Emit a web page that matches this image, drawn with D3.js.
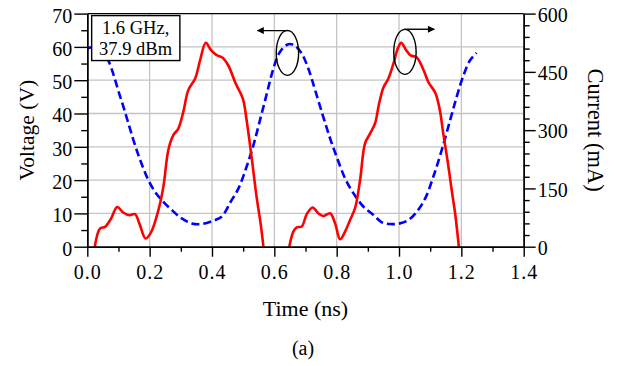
<!DOCTYPE html>
<html>
<head>
<meta charset="utf-8">
<script src="https://cdn.jsdelivr.net/npm/d3@7"></script>
<style>
  body { margin: 0; background: #fff; }
  svg, svg text { font-family: "Liberation Serif", "Times New Roman", serif; }
  svg { display: block; }
</style>
</head>
<body>
<div id="chart"></div>
<script>
// time axis (ns)
const timeTicks = [0, 0.2, 0.4, 0.6, 0.8, 1.0, 1.2, 1.4];
const voltTicks = [0, 10, 20, 30, 40, 50, 60, 70];
const currTicks = [0, 150, 300, 450, 600];

// dashed blue: drain voltage (V)
const voltTime = [0, 0.025, 0.05, 0.067, 0.083, 0.099, 0.116, 0.132, 0.148, 0.164, 0.180, 0.196,
  0.217, 0.239, 0.271, 0.303, 0.335, 0.367, 0.404, 0.431, 0.46, 0.485, 0.511, 0.533, 0.554,
  0.576, 0.597, 0.618, 0.645, 0.666, 0.688, 0.709, 0.731, 0.757, 0.779, 0.800, 0.827, 0.854,
  0.886, 0.918, 0.944, 0.971, 1.003, 1.030, 1.057, 1.084, 1.110, 1.137, 1.164, 1.185, 1.207,
  1.228, 1.249];
const voltValues = [59.5, 60, 58.5, 56, 52, 47, 42, 37, 32, 27.5, 23.5, 20,
  16.5, 14, 11, 8.5, 7, 6.8, 7.8, 9, 13.5, 17.5, 24, 30.5, 38,
  46, 53.5, 58.5, 60.8, 60.4, 58, 53.5, 47, 39, 32.5, 27, 20.5, 16,
  12, 9.5, 7.4, 6.8, 7, 8, 10.5, 14.5, 21, 29, 38, 45, 51.5,
  56, 58.2];

// solid red: drain current (mA), null = gap between pulses
const currTime = [0.024, 0.041, 0.057, 0.076, 0.096, 0.115, 0.135, 0.153, 0.167, 0.187, 0.204,
  0.228, 0.244, 0.260, 0.276, 0.292, 0.308, 0.324, 0.346, 0.362, 0.380, 0.397, 0.415, 0.433,
  0.452, 0.476, 0.499, 0.511, 0.527, 0.543, 0.556, 0.565,
  0.6,
  0.648, 0.661, 0.672, 0.688, 0.704, 0.723, 0.741, 0.757, 0.779, 0.795, 0.811, 0.827, 0.843,
  0.859, 0.875, 0.891, 0.907, 0.923, 0.936, 0.950, 0.966, 0.982, 0.996, 1.007, 1.022, 1.036,
  1.057, 1.079, 1.094, 1.117, 1.131, 1.142, 1.156, 1.169, 1.180, 1.192];
const currValues = [0, 47, 51, 72, 102, 88, 81, 84, 60, 21, 36,
  94, 154, 249, 287, 304, 347, 403, 433, 480, 525, 506, 493, 487,
  467, 420, 381, 326, 231, 129, 60, 0,
  null,
  0, 39, 50, 52, 84, 101, 86, 79, 86, 60, 19, 39, 69,
  99, 171, 266, 291, 317, 368, 410, 433, 471, 510, 525, 507, 493,
  487, 454, 424, 395, 351, 291, 220, 146, 86, 0];

const boxLines = ["1.6 GHz,", "37.9 dBm"];

const width = 620, height = 366;
const margin = {top: 13.6, right: 96.3, bottom: 119.3, left: 87.3};
const serif = "\"Liberation Serif\", \"Times New Roman\", serif";

const svg = d3.select("#chart").append("svg")
  .attr("width", width)
  .attr("height", height);

const x = d3.scaleLinear().domain([0, 1.4]).range([margin.left, width - margin.right]);
const yV = d3.scaleLinear().domain([0, 70]).range([height - margin.bottom, margin.top]);
const yI = d3.scaleLinear().domain([0, 600]).range([height - margin.bottom, margin.top]);

// grid
const grid = svg.append("g").attr("stroke", "#c4c4c4").attr("stroke-width", 1.3);
grid.selectAll(".gv").data(timeTicks.slice(1, -1)).enter().append("line")
  .attr("x1", d => x(d)).attr("x2", d => x(d))
  .attr("y1", yV(0)).attr("y2", yV(70));
grid.selectAll(".gh").data(voltTicks.slice(1, -1)).enter().append("line")
  .attr("x1", x(0)).attr("x2", x(1.4))
  .attr("y1", d => yV(d)).attr("y2", d => yV(d));

// curves
const voltData = voltTime.map((t, i) => [t, voltValues[i]]);
const currData = currTime.map((t, i) => [t, currValues[i]]);

svg.append("path")
  .datum(voltData)
  .attr("fill", "none")
  .attr("stroke", "#0000ff")
  .attr("stroke-width", 2.6)
  .attr("stroke-dasharray", "8,4")
  .attr("d", d3.line().x(d => x(d[0])).y(d => yV(d[1])).curve(d3.curveCatmullRom));

svg.append("path")
  .datum(currData)
  .attr("fill", "none")
  .attr("stroke", "#ff0000")
  .attr("stroke-width", 2.6)
  .attr("d", d3.line().defined(d => d[1] !== null)
    .x(d => x(d[0])).y(d => yI(d[1])).curve(d3.curveCatmullRom));

// axes
const tickFont = g => {
  g.attr("font-family", serif).attr("font-size", 20);
  g.selectAll("text").style("font-family", serif).attr("font-size", 20).attr("fill", "#000");
};
const lineStyle = g => g.selectAll("line, path").attr("stroke", "#000").attr("stroke-width", 1.4);

const minorT = d3.range(1, 14, 2).map(d => d / 10);
svg.append("g")
  .attr("transform", `translate(0,${yV(0)})`)
  .call(d3.axisBottom(x).tickValues(minorT).tickSize(5).tickSizeOuter(0).tickFormat(""))
  .call(lineStyle);
svg.append("g")
  .attr("transform", `translate(0,${yV(0)})`)
  .call(d3.axisBottom(x).tickValues(timeTicks).tickSize(10).tickSizeOuter(0)
    .tickPadding(8).tickFormat(d3.format(".1f")))
  .call(lineStyle).call(tickFont)
  .call(g => g.selectAll("text").attr("letter-spacing", 1));

const minorV = d3.range(5, 70, 5).filter(d => d % 10);
svg.append("g")
  .attr("transform", `translate(${x(0)},0)`)
  .call(d3.axisLeft(yV).tickValues(minorV).tickSize(6).tickSizeOuter(0).tickFormat(""))
  .call(lineStyle);
svg.append("g")
  .attr("transform", `translate(${x(0)},0)`)
  .call(d3.axisLeft(yV).tickValues(voltTicks).tickSize(13).tickSizeOuter(0).tickPadding(2))
  .call(lineStyle).call(tickFont)
  .call(g => g.selectAll("text").attr("dy", "0.42em"));

const minorI = d3.range(30, 600, 30).filter(d => d % 150);
svg.append("g")
  .attr("transform", `translate(${x(1.4)},0)`)
  .call(d3.axisRight(yI).tickValues(minorI).tickSize(6).tickSizeOuter(0).tickFormat(""))
  .call(lineStyle);
svg.append("g")
  .attr("transform", `translate(${x(1.4)},0)`)
  .call(d3.axisRight(yI).tickValues(currTicks).tickSize(12).tickSizeOuter(0).tickPadding(2))
  .call(lineStyle).call(tickFont)
  .call(g => g.selectAll("text").attr("dy", "0.38em"));

// top border
svg.append("line")
  .attr("x1", x(0)).attr("x2", x(1.4))
  .attr("y1", yV(70)).attr("y2", yV(70))
  .attr("stroke", "#000").attr("stroke-width", 1.4);

// axis titles
svg.append("text")
  .attr("transform", `translate(34,${(yV(0) + yV(70)) / 2}) rotate(-90)`)
  .attr("text-anchor", "middle")
  .attr("font-size", 21.5)
  .text("Voltage (V)");
svg.append("text")
  .attr("transform", `translate(588,${(yV(0) + yV(70)) / 2}) rotate(90)`)
  .attr("text-anchor", "middle")
  .attr("font-size", 22.5)
  .text("Current (mA)");
svg.append("text")
  .attr("x", (x(0) + x(1.4)) / 2).attr("y", 316)
  .attr("text-anchor", "middle")
  .attr("font-size", 22)
  .text("Time (ns)");
svg.append("text")
  .attr("x", 303).attr("y", 355)
  .attr("text-anchor", "middle")
  .attr("font-size", 20)
  .text("(a)");

// annotation box
const box = svg.append("g");
box.append("rect")
  .attr("x", x(0.014)).attr("y", yV(69.4))
  .attr("width", x(0.297) - x(0.014)).attr("height", yV(55.9) - yV(69.4))
  .attr("fill", "#fff").attr("stroke", "#000").attr("stroke-width", 1.4);
box.selectAll(".bl").data(boxLines).enter().append("text")
  .attr("x", x(0.155))
  .attr("y", (d, i) => yV(64) + i * 21.5)
  .attr("text-anchor", "middle")
  .attr("font-size", 18.5)
  .text(d => d);

// ellipses with arrows pointing to the axis of each curve
svg.append("defs").append("marker")
  .attr("id", "head").attr("viewBox", "0 0 10 10")
  .attr("refX", 9).attr("refY", 5)
  .attr("markerWidth", 10).attr("markerHeight", 7)
  .attr("markerUnits", "userSpaceOnUse")
  .attr("orient", "auto")
  .append("path").attr("d", "M0,0L10,5L0,10Z").attr("fill", "#000");

const marks = [
  {t: 0.642, v: 58.2, t0: 0.648, t1: 0.546, va: 64.9},
  {t: 1.019, v: 58.5, t0: 1.017, t1: 1.113, va: 65.3}
];
marks.forEach(m => {
  svg.append("ellipse")
    .attr("cx", x(m.t)).attr("cy", yV(m.v))
    .attr("rx", 11.2).attr("ry", 22.5)
    .attr("fill", "none").attr("stroke", "#000").attr("stroke-width", 1.4);
  svg.append("line")
    .attr("x1", x(m.t0)).attr("x2", x(m.t1))
    .attr("y1", yV(m.va)).attr("y2", yV(m.va))
    .attr("stroke", "#000").attr("stroke-width", 1.4)
    .attr("marker-end", "url(#head)");
});
</script>
</body>
</html>
